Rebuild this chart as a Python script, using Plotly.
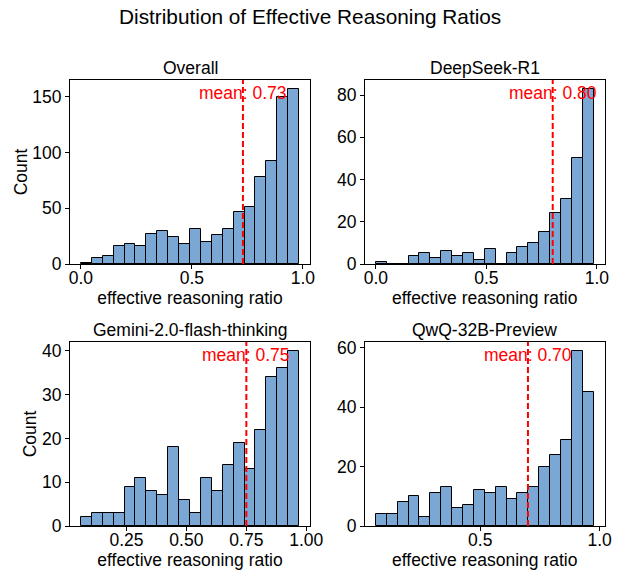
import numpy as np
import plotly.graph_objects as go

# ---- data ----
panel_titles = ["Overall", "DeepSeek-R1", "Gemini-2.0-flash-thinking", "QwQ-32B-Preview"]

overall_counts = [1, 5, 7, 16, 18, 16, 27, 30, 24, 18, 31, 20, 26, 31, 47, 51, 78, 92, 150, 157]
deepseek_counts = [1, 0, 0, 4, 5, 3, 6, 4, 5, 2, 7, 0, 5, 8, 10, 15, 24, 31, 50, 83]
gemini_counts = [2, 3, 3, 3, 9, 11, 8, 7, 18, 6, 3, 11, 8, 14, 19, 13, 22, 34, 36, 40]
qwq_counts = [4, 4, 8, 10, 3, 11, 13, 6, 7, 12, 11, 13, 9, 11, 13, 20, 24, 29, 59, 45]

data_min = [0.0, 0.0, 0.06, 0.063]
data_max = [0.983, 0.985, 0.97, 0.975]
means = [0.73, 0.80, 0.75, 0.70]

x_ticks = [[0.0, 0.5, 1.0], [0.0, 0.5, 1.0], [0.25, 0.50, 0.75, 1.00], [0.5, 1.0]]
x_tick_fmt = [".1f", ".1f", ".2f", ".1f"]
y_ticks = [[0, 50, 100, 150], [0, 20, 40, 60, 80], [0, 10, 20, 30, 40], [0, 20, 40, 60]]

all_counts = [overall_counts, deepseek_counts, gemini_counts, qwq_counts]

# ---- layout geometry ----
W, H = 619, 572
x_doms = [(70 / W, 310 / W), (365 / W, 604.5 / W)]
y_doms = [((572 - 264) / H, (572 - 80) / H), ((572 - 526) / H, (572 - 342) / H)]

FONT = "Liberation Sans, Arial, sans-serif"
FS = 17.5
BAR_COLOR = "#7BA7D5"

fig = go.Figure()
annotations = []
layout_axes = {}

for i in range(4):
    r, c = divmod(i, 2)
    counts = np.array(all_counts[i])
    edges = np.linspace(data_min[i], data_max[i], len(counts) + 1)
    centers = (edges[:-1] + edges[1:]) / 2
    width = edges[1] - edges[0]
    xa = "x" if i == 0 else f"x{i+1}"
    ya = "y" if i == 0 else f"y{i+1}"
    fig.add_trace(go.Bar(
        x=centers, y=counts, width=width, xaxis=xa, yaxis=ya,
        marker=dict(color=BAR_COLOR, line=dict(color="black", width=1)),
        showlegend=False, hoverinfo="x+y",
    ))
    pad = 0.05 * (data_max[i] - data_min[i])
    xr = [data_min[i] - pad, data_max[i] + pad]
    yr = [0, counts.max() * 1.05]

    # mean line
    fig.add_trace(go.Scatter(
        x=[means[i], means[i]], y=yr, xaxis=xa, yaxis=ya, mode="lines",
        line=dict(color="red", width=2, dash="6px,3px"), showlegend=False, hoverinfo="skip",
    ))

    xname = "xaxis" if i == 0 else f"xaxis{i+1}"
    yname = "yaxis" if i == 0 else f"yaxis{i+1}"
    common = dict(showline=True, linecolor="black", linewidth=1, mirror=True,
                  ticks="outside", ticklen=4, tickcolor="black", showgrid=False,
                  zeroline=False, automargin=False,
                  tickfont=dict(size=FS, color="black", family=FONT))
    layout_axes[xname] = dict(
        domain=x_doms[c], anchor=ya, range=xr, tickvals=x_ticks[i],
        ticktext=[format(v, x_tick_fmt[i]) for v in x_ticks[i]],
        ticklabelstandoff=-6,
        title=dict(text="effective reasoning ratio", font=dict(size=FS, color="black", family=FONT), standoff=4),
        **common)
    layout_axes[yname] = dict(
        domain=y_doms[r], anchor=xa, range=yr, tickvals=y_ticks[i],
        title=dict(text="Count" if c == 0 else "", font=dict(size=FS, color="black", family=FONT), standoff=0),
        **common)

    # subplot title
    annotations.append(dict(
        text=panel_titles[i], x=(x_doms[c][0] + x_doms[c][1]) / 2, y=y_doms[r][1],
        xref="paper", yref="paper", xanchor="center", yanchor="bottom", yshift=0,
        showarrow=False, font=dict(size=FS, color="black", family=FONT)))
    # mean text
    annotations.append(dict(
        text=f"mean: {means[i]:.2f}", x=means[i], y=0.93,
        xref=xa, yref=f"{ya} domain", xanchor="center", yanchor="middle",
        showarrow=False, font=dict(size=FS, color="red", family=FONT)))

annotations.append(dict(
    text="Distribution of Effective Reasoning Ratios", x=0.5, y=1 - 17 / H,
    xref="paper", yref="paper", xanchor="center", yanchor="middle",
    showarrow=False, font=dict(size=20.8, color="black", family=FONT)))

fig.update_layout(
    width=W, height=H, margin=dict(l=0, r=0, t=0, b=0, autoexpand=False),
    paper_bgcolor="white", plot_bgcolor="white",
    bargap=0, annotations=annotations, font=dict(family=FONT),
    **layout_axes,
)

fig.write_html("out.html")
